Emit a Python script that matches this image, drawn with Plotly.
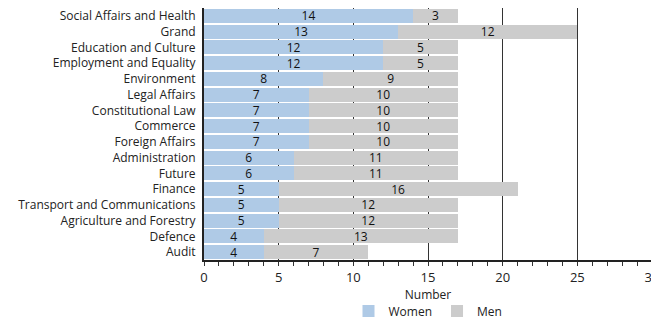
import plotly.graph_objects as go

categories = ["Social Affairs and Health", "Grand", "Education and Culture",
              "Employment and Equality", "Environment", "Legal Affairs",
              "Constitutional Law", "Commerce", "Foreign Affairs", "Administration",
              "Future", "Finance", "Transport and Communications",
              "Agriculture and Forestry", "Defence", "Audit"]
women = [14, 13, 12, 12, 8, 7, 7, 7, 7, 6, 6, 5, 5, 5, 4, 4]
men = [3, 12, 5, 5, 9, 10, 10, 10, 10, 11, 11, 16, 12, 12, 13, 7]

FONT = "Open Sans, sans-serif"

fig = go.Figure()
for name, vals, col in [("Women", women, "#afcae6"), ("Men", men, "#cccccc")]:
    fig.add_trace(go.Bar(y=categories, x=vals, orientation="h", name=name,
                         marker=dict(color=col, line=dict(width=0)),
                         text=vals, textposition="inside", insidetextanchor="middle",
                         textfont=dict(color="#111", size=12, family=FONT),
                         textangle=0, constraintext="none"))

# page body has an 8px margin, so the figure is 8px smaller than the window
fig.update_layout(
    template="none",
    barmode="stack", bargap=0.1,
    width=651, height=312,
    margin=dict(l=196, r=7, t=0, b=60, autoexpand=False),
    paper_bgcolor="white", plot_bgcolor="white",
    font=dict(family=FONT, size=12, color="#222"),
    uniformtext=dict(minsize=12, mode="show"),
    legend=dict(orientation="h", x=0.5, xanchor="center", y=-0.145, yanchor="top",
                font=dict(size=12), traceorder="normal", itemwidth=30),
    xaxis=dict(range=[0, 30], tickvals=[0, 5, 10, 15, 20, 25, 30],
               showgrid=True, gridcolor="#333", gridwidth=1,
               showline=True, linecolor="#222", linewidth=2, mirror=True,
               ticks="outside", ticklen=4, tickcolor="#333",
               minor=dict(dtick=1, ticks="outside", ticklen=4, tickcolor="#333", showgrid=False),
               title=dict(text="Number", standoff=0, font=dict(size=12)),
               zeroline=False, tickfont=dict(size=13), automargin=False,
               ticklabeloverflow="allow"),
    yaxis=dict(categoryorder="array", categoryarray=categories[::-1],
               showline=True, linecolor="#222", linewidth=2, mirror=True,
               ticks="", showgrid=False, tickfont=dict(size=12), ticklabelstandoff=4,
               automargin=False),
)

fig.write_html("out.html")
